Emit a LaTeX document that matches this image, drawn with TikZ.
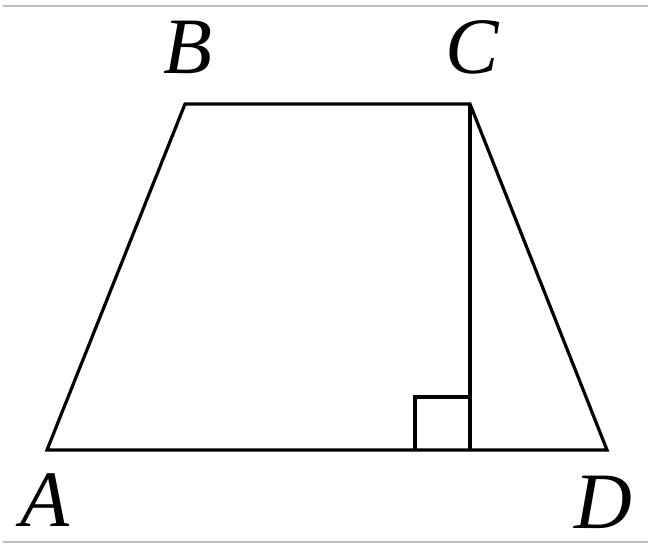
\documentclass[tikz,border=0pt]{standalone}
\usepackage{fontspec}
\setmainfont{Liberation Serif}
\begin{document}
\begin{tikzpicture}[x=1pt,y=-1pt,
  edge/.style={line width=3.2pt,black},
  frame/.style={line width=2pt,black!25},
  lab/.style={font=\fontsize{80}{86}\selectfont\itshape,inner sep=0pt}]
\useasboundingbox (0,0) rectangle (648,544);
\draw[frame] (3,6) -- (648,6);
\draw[frame] (3,542) -- (648,542);
\coordinate (A) at (47,450);
\coordinate (B) at (185,104);
\coordinate (C) at (470,104);
\coordinate (D) at (607,450);
\coordinate (H) at (470,450);
\coordinate (R1) at (415,450);
\coordinate (R2) at (415,397);
\coordinate (R3) at (470,397);
\draw[edge,line join=miter] (A) -- (B) -- (C) -- (D) -- cycle;
\draw[edge] (C) -- (H);
\draw[edge] (R1) -- (R2) -- (R3);
\node[lab] (lB) at (188,47) {B};
\node[lab] (lC) at (472,47) {C};
\node[lab] (lA) at (45,500) {A};
\node[lab] (lD) at (603,502) {D};
\end{tikzpicture}
\end{document}
